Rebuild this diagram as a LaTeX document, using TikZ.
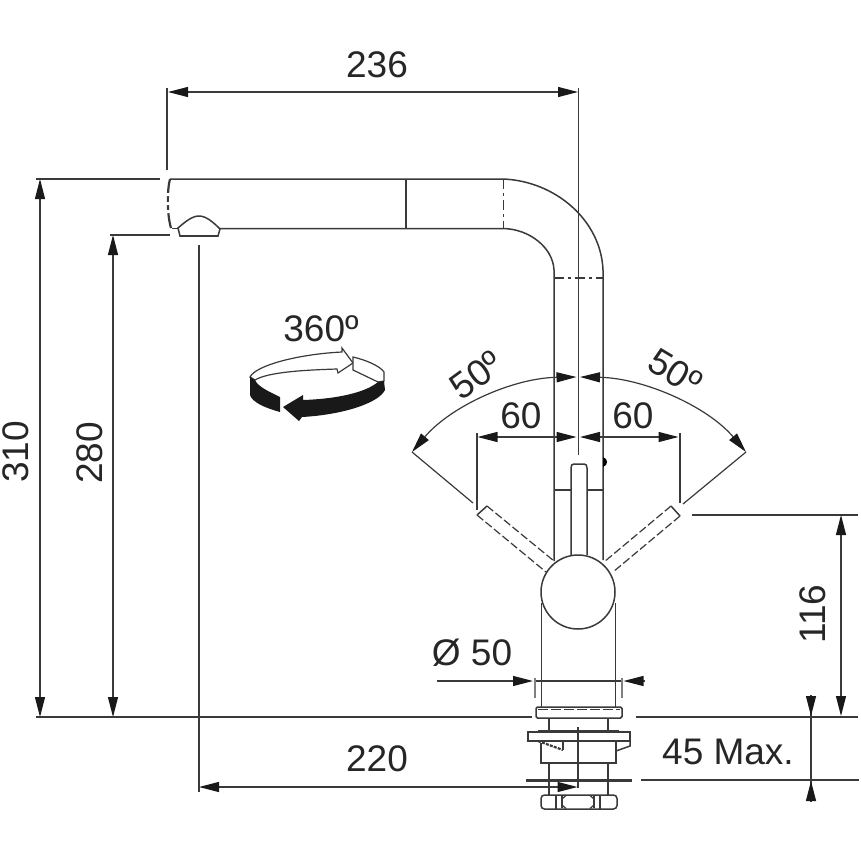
\documentclass[tikz,border=0pt]{standalone}
\usepackage{fontspec}
\setmainfont{Liberation Sans}
\usetikzlibrary{arrows.meta}
\definecolor{ink}{HTML}{3A3A3A}
\tikzset{
  every picture/.style={x=1pt,y=-1pt},
  ln/.style={draw=ink,line width=1.5pt},
  thin ln/.style={draw=ink,line width=1.2pt},
  thick ln/.style={draw=ink,line width=2.2pt},
  dsh/.style={ln,line width=1.2pt,dash pattern=on 8pt off 3pt},
  dashdot/.style={ln,dash pattern=on 10pt off 4pt on 3pt off 4pt},
  dimtip/.tip={Triangle[length=20pt,width=10pt,color=black!90]},
  dim/.style={thin ln,dimtip-dimtip},
  dimend/.style={thin ln,-dimtip},
  lbl/.style={font=\fontsize{37}{37}\selectfont,text=black!85,inner sep=0pt},
}
\begin{document}
\begin{tikzpicture}
\useasboundingbox (0,0) rectangle (860,860);
\fill[white] (0,0) rectangle (860,860);

% --- spout
\draw[ln] (170,179) -- (503,179) .. controls (555,181) and (601,220) .. (603,270) -- (603,560);
\draw[ln] (172,228.5) -- (178,228.5);
\draw[ln] (220,228.5) -- (503,228.5) .. controls (530,229) and (553,248) .. (554,270) -- (554,561);
\draw[thick ln] (170,179) .. controls (167,190) and (167,215) .. (171,228);
\fill[white] (166,193) rectangle (172,196) (166,202) rectangle (172,205) (166,210) rectangle (172,213);
\draw[thick ln] (406,179) -- (406,228.5);
\draw[dashdot] (503.5,179) -- (503.5,228);
\draw[dashdot] (554,278) -- (603,278);
% aerator
\draw[ln] (178,228) .. controls (185,222) and (192,216) .. (199,216) .. controls (206,216) and (213,222) .. (220,229) -- (218,236) -- (180,236) -- cycle;
\draw[thick ln] (180,236) -- (218,236);

% --- handle
\draw[ln] (571,555) -- (571,468) .. controls (571,465) and (572,464) .. (574,464) -- (584,464) .. controls (586,464) and (587,465) .. (587,468) -- (587,555);
\draw[thick ln] (554,490) -- (571,490) (587,490) -- (603,490);
\fill[black] (603,457) .. controls (606,458) and (607,460) .. (607,462) .. controls (607,464) and (606,466) .. (603,467) -- cycle;
\draw[ln] (578,592) circle[radius=37];
% ghost handles
\draw[dsh] (487,506) -- (554,561);
\draw[dsh] (477,515) -- (546,572);
\draw[ln] (487,506) -- (477,515);
\draw[dsh] (671,506) -- (604,562);
\draw[dsh] (680,516) -- (613,572);
\draw[ln] (671,506) -- (680,516);

% --- body and base
\draw[ln] (541.5,603) -- (541.5,707);
\draw[ln] (615.5,603) -- (615.5,707);
\draw[ln,rounded corners=1.5pt,fill=white] (536,707) rectangle (622,718);
\draw[ln,line width=1pt,dash pattern=on 10pt off 3pt] (538,709.5) -- (620,709.5);
\draw[ln] (549,718) -- (549,731) (608,718) -- (608,731);
\draw[thick ln] (538,731) -- (619,731);
\draw[ln] (528,732) -- (630,732) -- (630,741) -- (528,741) -- cycle;
\draw[ln] (563,741) -- (563,750) (616,741) -- (616,763) -- (541,763) -- (541,743);
\draw[ln] (616,751) -- (630,746) -- (630,741);
\draw[thick ln,dash pattern=on 3pt off 1.2pt] (538,741) -- (563,750);
\draw[ln] (549,763) -- (549,795) (608,763) -- (608,795);
\draw[draw=ink,line width=2.8pt] (526,780.5) -- (632,780.5);
\draw[ln,rounded corners=3.5pt,fill=white] (541,795) rectangle (617,809);
\draw[ln] (556,795) -- (556,809) (562,796) -- (562,808) (594,796) -- (594,808) (600,795) -- (600,809);
\draw[thin ln] (562,799) -- (566,795.5) (562,805) -- (566,808.5) (594,799) -- (590,795.5) (594,805) -- (590,808.5);

% --- dimension: 236
\draw[dim] (168,92) -- (578,92);
\draw[ln] (167,88) -- (167,170);
\draw[ln] (578.5,88) -- (578.5,455);
\node[lbl] (t236) at (377,65) {236};

% --- dimensions: 310, 280
\draw[dim] (40,179) -- (40,717);
\draw[dim] (113,235) -- (113,717);
\draw[ln] (36,179) -- (160,179);
\draw[ln] (110,235) -- (170,235);
\draw[ln] (36,717) -- (532,717);
\draw[ln] (636,717) -- (858,717);
\node[lbl,rotate=90] (t310) at (15.5,452) {310};
\node[lbl,rotate=90] (t280) at (90,453) {280};

% --- dimension: 220
\draw[ln] (199,245) -- (199,792);
\draw[ln] (578,727) -- (578,788);
\draw[dim] (199,787) -- (577.5,787);
\node[lbl] (t220) at (377,759) {220};

% --- rotation icon
\node[lbl] (t360) at (321,329) {360º};
\draw[thin ln,fill=white] (250,377) .. controls (256,365) and (300,354) .. (342,352) -- (342,348) -- (353,363) -- (338,373) -- (337,369) .. controls (305,370) and (268,372) .. (255,380) -- cycle;
\draw[thin ln,fill=white] (353,357) .. controls (366,360) and (380,366) .. (384,372) -- (384,381) -- (378,382) -- (353,370) -- cycle;
\fill[black!90] (250,377) -- (255,380) .. controls (258,387) and (270,392) .. (280,397) -- (280,412) .. controls (265,408) and (252,402) .. (250,395) -- cycle;
\fill[black!90] (283,407) -- (303,395) -- (303,400) .. controls (335,399) and (365,393) .. (378,382) -- (384,381) -- (385,390) .. controls (378,404) and (340,415) .. (302,417) -- (299,421) -- cycle;

% --- dimensions: 50 degrees
\draw[thin ln,dimtip-dimtip] (412,452) .. controls (451,406) and (513,378) .. (576.5,377);
\draw[thin ln,dimtip-dimtip] (746,452) .. controls (707,406) and (643,378) .. (580,377);
\draw[ln,line width=1.2pt] (412,452) -- (473,503);
\draw[ln,line width=1.2pt] (746,452) -- (683,504);
\node[lbl,rotate=36] (t50l) at (476,375) {50º};
\node[lbl,rotate=-31] (t50r) at (675,372) {50º};

% --- dimensions: 60
\draw[dim] (477.5,437) -- (576.5,437);
\draw[dim] (678.5,437) -- (580,437);
\draw[ln] (477,433) -- (477,510);
\draw[ln] (680,433) -- (680,503);
\node[lbl] (t60l) at (521,416) {60};
\node[lbl] (t60r) at (633,416) {60};

% --- dimension: diameter 50
\draw[dimend] (437,681) -- (533,681);
\draw[thin ln] (535,681) -- (622,681);
\draw[thin ln,dimtip-] (623.5,681) -- (645,681);
\draw[draw=gray,line width=1.2pt] (535,678) -- (535,698) (622,678) -- (622,698);
\node[lbl] (td50) at (472,653) {Ø 50};

% --- dimension: 116
\draw[ln] (692,515) -- (858,515);
\draw[dim] (841,515) -- (841,716);
\node[lbl,rotate=90] (t116) at (813,614) {116};

% --- dimension: 45 Max.
\draw[ln] (641,780) -- (859,780);
\draw[thin ln] (811,695) -- (811,802);
\draw[thin ln,-dimtip] (811,695) -- (811,716);
\draw[thin ln,-dimtip] (811,802) -- (811,781);
\node[lbl] (t45) at (728,752) {45 Max.};
\end{tikzpicture}
\end{document}
